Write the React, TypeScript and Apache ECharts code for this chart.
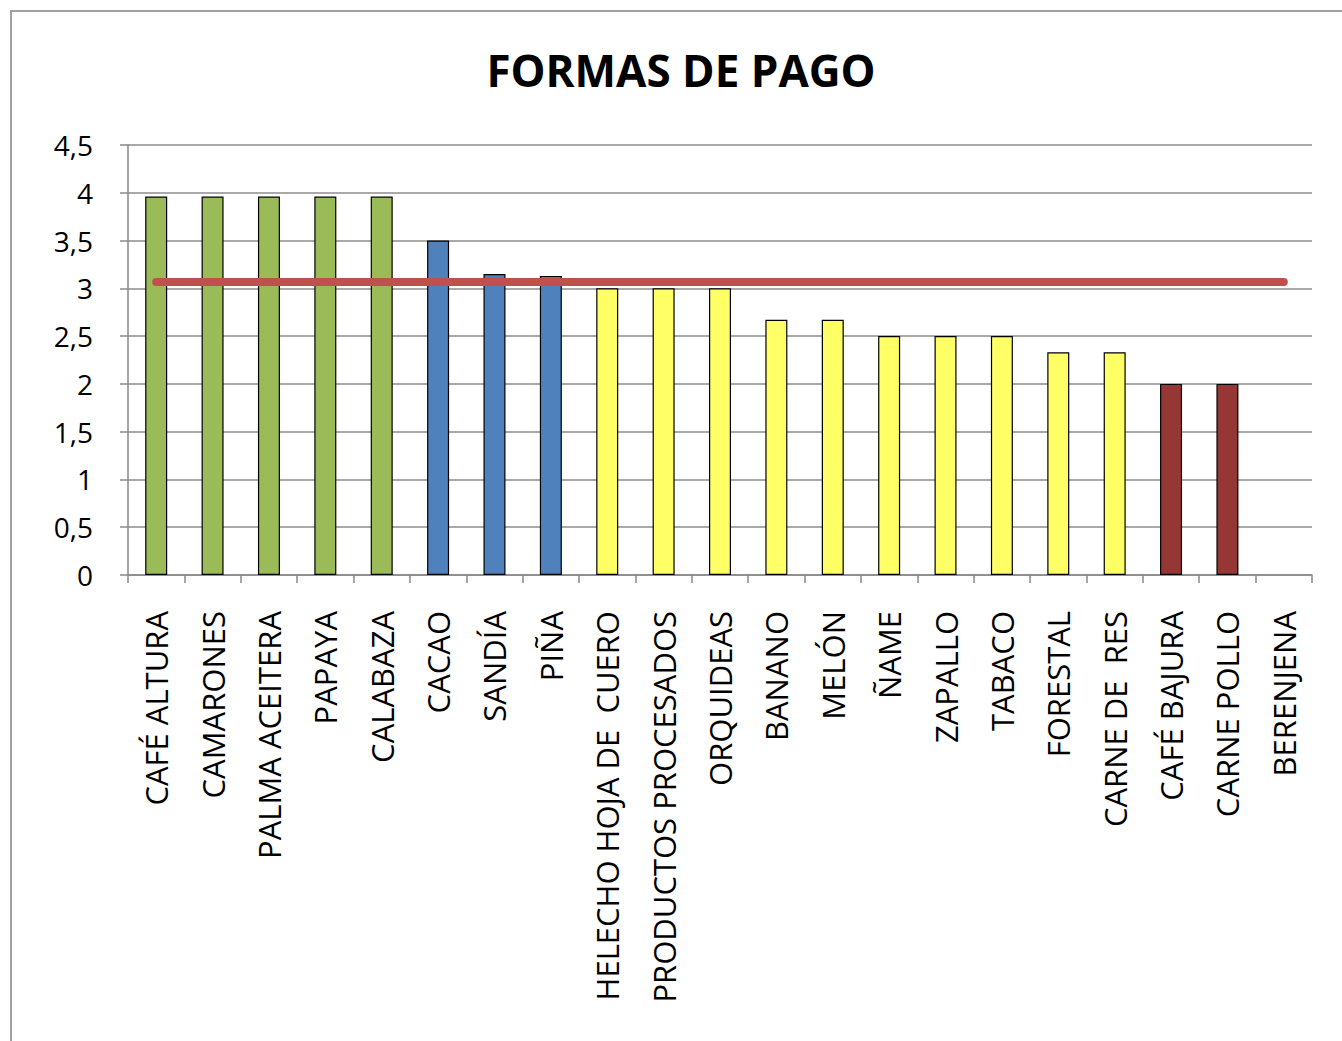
import React, { useEffect, useRef } from "react";
import * as echarts from "echarts";

const categories = [
  "CAFÉ ALTURA", "CAMARONES", "PALMA ACEITERA", "PAPAYA", "CALABAZA",
  "CACAO", "SANDÍA", "PIÑA", "HELECHO HOJA DE  CUERO", "PRODUCTOS PROCESADOS",
  "ORQUIDEAS", "BANANO", "MELÓN", "ÑAME", "ZAPALLO", "TABACO", "FORESTAL",
  "CARNE DE  RES", "CAFÉ BAJURA", "CARNE POLLO", "BERENJENA",
];
const values = [
  3.96, 3.96, 3.96, 3.96, 3.96,
  3.5, 3.15, 3.13, 3.0, 3.0,
  3.0, 2.67, 2.67, 2.5, 2.5, 2.5, 2.33,
  2.33, 2.0, 2.0, 0,
];
const groupOf = [
  "g", "g", "g", "g", "g",
  "b", "b", "b", "y", "y",
  "y", "y", "y", "y", "y", "y", "y",
  "y", "r", "r", "r",
];
const groupColors: Record<string, string> = {
  g: "#9BBB59",
  b: "#4F81BD",
  y: "#FFFF66",
  r: "#953735",
};
const promedio = 3.07;
const yTicks = { min: 0, max: 4.5, interval: 0.5 };

export default function App() {
  const ref = useRef<HTMLDivElement>(null);
  useEffect(() => {
    if (!ref.current) return;
    const chart = echarts.init(ref.current, null, { renderer: "svg" });
    chart.setOption({
      animation: false,
      backgroundColor: "#ffffff",
      title: {
        text: "FORMAS DE PAGO",
        left: 676,
        top: 43,
        textAlign: "center",
        textStyle: {
          fontFamily: "Open Sans",
          fontWeight: "bold",
          fontSize: 44,
          color: "#000",
        },
      },
      graphic: [
        { type: "line", shape: { x1: 11, y1: 10, x2: 11, y2: 1041 }, style: { stroke: "#a0a0a0", lineWidth: 2 } },
        { type: "line", shape: { x1: 10, y1: 11, x2: 1342, y2: 11 }, style: { stroke: "#a0a0a0", lineWidth: 2 } },
      ],
      grid: { left: 128, right: 30, top: 145, bottom: 466, containLabel: false },
      xAxis: {
        type: "category",
        data: categories,
        boundaryGap: true,
        axisLine: { show: true, lineStyle: { color: "#888", width: 1.5 } },
        axisTick: { show: true, length: 8, inside: false, alignWithLabel: false, lineStyle: { color: "#888", width: 1.5 } },
        axisLabel: {
          rotate: 90,
          interval: 0,
          margin: 36,
          fontFamily: "Open Sans",
          fontSize: 31,
          color: "#000",
        },
      },
      yAxis: {
        type: "value",
        min: yTicks.min,
        max: yTicks.max,
        interval: yTicks.interval,
        axisLine: { show: true, lineStyle: { color: "#888", width: 1.5 } },
        axisTick: { show: true, length: 8, lineStyle: { color: "#888", width: 1.5 } },
        splitLine: { show: true, lineStyle: { color: "#8c8c8c", width: 1.5 } },
        axisLabel: {
          margin: 35,
          fontFamily: "Open Sans",
          fontSize: 28,
          color: "#000",
          formatter: (v: number) => String(v).replace(".", ","),
        },
      },
      series: [
        {
          type: "bar",
          barWidth: 22,
          data: values.map((v, i) => ({
            value: v,
            itemStyle: {
              color: groupColors[groupOf[i]],
              borderColor: "#000",
              borderWidth: v === 0 ? 0 : 1.2,
            },
          })),
          markLine: {
            silent: true,
            symbol: ["none", "none"],
            label: { show: false },
            lineStyle: { color: "#C0504D", width: 8, type: "solid", cap: "round" },
            data: [[
              { coord: [0, promedio] },
              { coord: [20, promedio] },
            ]],
          },
        },
      ],
    });
    return () => chart.dispose();
  }, []);
  return (
    <div
      ref={ref}
      style={{ position: "fixed", left: 0, top: 0, width: 1342, height: 1041 }}
    />
  );
}
